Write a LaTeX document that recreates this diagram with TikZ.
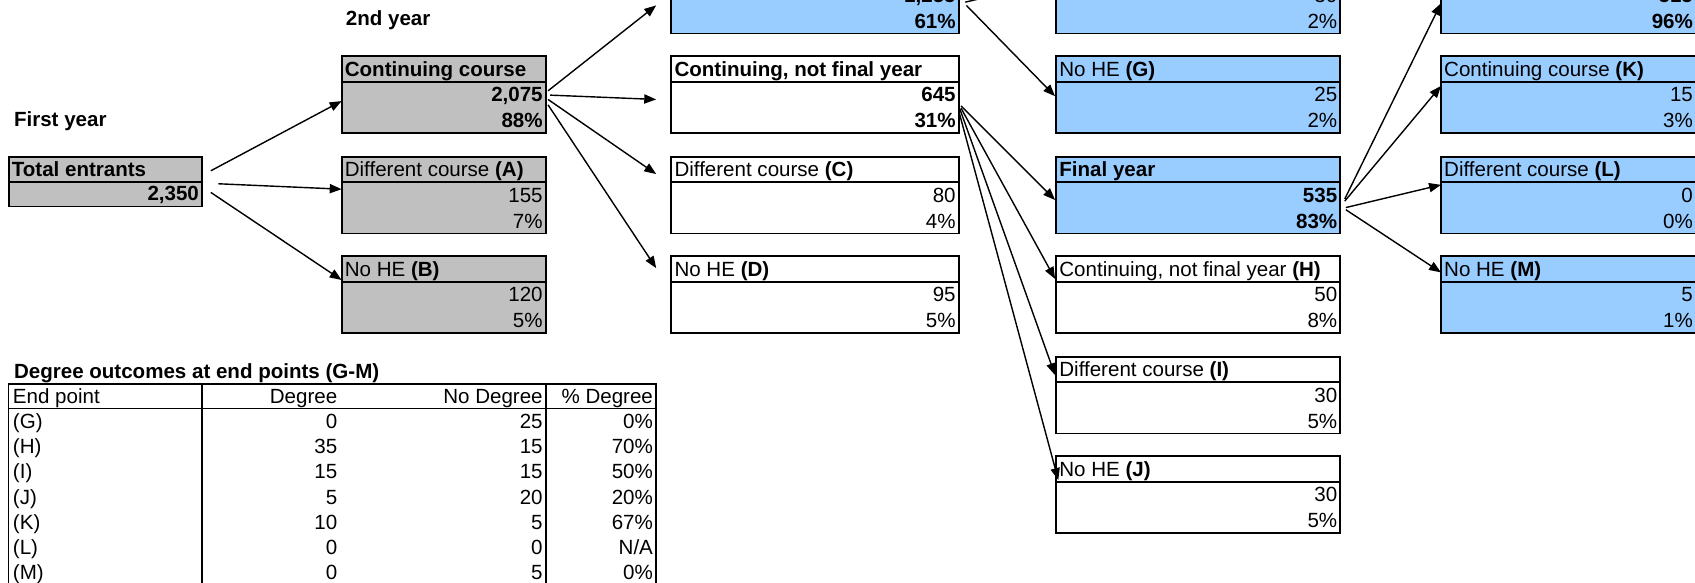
\documentclass[tikz,border=0pt]{standalone}
\usepackage{fontspec}
\setmainfont{Liberation Sans}
\usetikzlibrary{arrows.meta,calc}
\definecolor{xgray}{HTML}{C0C0C0}
\definecolor{xblue}{HTML}{99CCFF}
\tikzset{
  boxsty/.style={draw=black, line width=1.8pt, inner sep=0pt, outer sep=0pt, rectangle},
  sepline/.style={line width=1.8pt},
  txt/.style={font=\fontsize{19}{22}\selectfont, inner sep=0pt, outer sep=0pt},
  txtb/.style={font=\fontsize{19}{22}\selectfont\bfseries, inner sep=0pt, outer sep=0pt},
  arr/.style={line width=1.3pt, -{Triangle[length=11pt,width=8.5pt]}},
  tline/.style={line width=1.4pt},
}
% name, x, ytop, width, fill, value, pct
\newcommand{\flowbox}[7]{%
  \node[boxsty, fill=#5, minimum width=#4pt, minimum height=71pt, anchor=north west] (#1) at (#2,#3) {};
  \draw[sepline] ($(#1.north west)+(0,23.7)$) -- ($(#1.north east)+(0,23.7)$);
  \node[txt, anchor=base east] (#1-v) at ($(#1.north east)+(-3,42.3)$) {#6};
  \node[txt, anchor=base east] (#1-p) at ($(#1.north east)+(-3,66)$) {#7};
}
\newcommand{\boxhead}[2]{%
  \node[txt, anchor=base west] (#1-h) at ($(#1.north west)+(3,18.6)$) {#2};
}
\begin{document}
\begin{tikzpicture}[x=1pt,y=-1pt]
\useasboundingbox (0,0) rectangle (1568,539);
\clip (0,0) rectangle (1568,539);
\fill[white] (0,0) rectangle (1568,539);

% labels
\node[txtb, anchor=base west] (lab2) at (320,23.8) {2nd year};
\node[txtb, anchor=base west] (lab1) at (13,116.8) {First year};

% column 0
\node[boxsty, fill=xgray, minimum width=179pt, minimum height=46pt, anchor=north west] (te) at (8,145) {};
\draw[sepline] ($(te.north west)+(0,23)$) -- ($(te.north east)+(0,23)$);
\node[txtb, anchor=base west] (te-h) at ($(te.north west)+(3,18.3)$) {Total entrants};
\node[txtb, anchor=base east] (te-v) at ($(te.north east)+(-3,40.8)$) {2,350};

% column 1
\flowbox{cc}{316}{52}{189}{xgray}{\textbf{2,075}}{\textbf{88\%}}
\boxhead{cc}{\textbf{Continuing course}}
\flowbox{A}{316}{145}{189}{xgray}{155}{7\%}
\boxhead{A}{Different course \textbf{(A)}}
\flowbox{B}{316}{237}{189}{xgray}{120}{5\%}
\boxhead{B}{No HE \textbf{(B)}}

% column 2
\flowbox{fy2}{621}{-40}{266}{xblue}{\textbf{1,255}}{\textbf{61\%}}
\flowbox{nf}{621}{52}{266}{white}{\textbf{645}}{\textbf{31\%}}
\boxhead{nf}{\textbf{Continuing, not final year}}
\flowbox{C}{621}{145}{266}{white}{80}{4\%}
\boxhead{C}{Different course \textbf{(C)}}
\flowbox{D}{621}{237}{266}{white}{95}{5\%}
\boxhead{D}{No HE \textbf{(D)}}

% column 3
\flowbox{F}{977}{-40}{263}{xblue}{30}{2\%}
\flowbox{G}{977}{52}{263}{xblue}{25}{2\%}
\boxhead{G}{No HE \textbf{(G)}}
\flowbox{fy3}{977}{145}{263}{xblue}{\textbf{535}}{\textbf{83\%}}
\boxhead{fy3}{\textbf{Final year}}
\flowbox{H}{977}{237}{263}{white}{50}{8\%}
\boxhead{H}{Continuing, not final year \textbf{(H)}}
\flowbox{I}{977}{330}{263}{white}{30}{5\%}
\boxhead{I}{Different course \textbf{(I)}}
\flowbox{J}{977}{422}{263}{white}{30}{5\%}
\boxhead{J}{No HE \textbf{(J)}}

% column 4
\flowbox{P}{1333}{-40}{236}{xblue}{\textbf{515}}{\textbf{96\%}}
\flowbox{K}{1333}{52}{236}{xblue}{15}{3\%}
\boxhead{K}{Continuing course \textbf{(K)}}
\flowbox{L}{1333}{145}{236}{xblue}{0}{0\%}
\boxhead{L}{Different course \textbf{(L)}}
\flowbox{M}{1333}{237}{236}{xblue}{5}{1\%}
\boxhead{M}{No HE \textbf{(M)}}

% arrows from total entrants
\draw[arr] ($(te.north east)+(8,13)$) -- ($(cc.north west)+(0,41.5)$);
\draw[arr] ($(te.north east)+(15,25)$) -- ($(A.north west)+(0,30)$);
\draw[arr] ($(te.north east)+(8,33)$) -- ($(B.north west)+(0,22)$);

% arrows from continuing course
\draw[arr] ($(cc.north east)+(2,32)$) -- ($(fy2.north west)+(-14,45)$);
\draw[arr] ($(cc.north east)+(4,36)$) -- ($(nf.north west)+(-14,40)$);
\draw[arr] ($(cc.north east)+(2,40)$) -- ($(C.north west)+(-14,16)$);
\draw[arr] ($(cc.north east)+(2,45)$) -- ($(D.north west)+(-14,11)$);

% arrows from final year (col 2)
\draw[arr] ($(fy2.north east)+(7,45)$) -- ($(G.north west)+(-1,37)$);
\draw[arr] ($(fy2.north east)+(6,42)$) -- ($(F.north west)+(-1,22)$);

% arrows from continuing, not final year
\draw[arr] ($(nf.north east)+(2,46)$) -- ($(fy3.north west)+(-1,40)$);
\draw[arr] ($(nf.north east)+(2,48)$) -- ($(H.north west)+(-1,21)$);
\draw[arr] ($(nf.north east)+(1,49)$) -- ($(I.north west)+(-1,17)$);
\draw[arr] ($(nf.north east)+(0,51)$) -- ($(J.north west)+(2,22)$);

% arrows from final year (col 3)
\draw[arr] ($(fy3.north east)+(4,39)$) -- ($(P.north west)+(0,43)$);
\draw[arr] ($(fy3.north east)+(4,41)$) -- ($(K.north west)+(0,27.5)$);
\draw[arr] ($(fy3.north east)+(5,47)$) -- ($(L.north west)+(0,26)$);
\draw[arr] ($(fy3.north east)+(5,49)$) -- ($(M.north west)+(0,15)$);

% table
\node[txtb, anchor=base west] (ttitle) at (13,349.8) {Degree outcomes at end points (G-M)};
\draw[tline] (8,355) rectangle (607,541);
\draw[tline] (187,355) -- (187,541);
\draw[tline] (505,355) -- (505,541);
\draw[tline] (8,378) -- (607,378);
\node[txt, anchor=base west] (th1) at (12,373.3) {End point};
\node[txt, anchor=base east] (th2) at (312,373.3) {Degree};
\node[txt, anchor=base east] (th3) at (502,373.3) {No Degree};
\node[txt, anchor=base east] (th4) at (604,373.3) {\% Degree};
\foreach \lab/\dg/\nd/\pc [count=\i] in {G/0/25/0\%, H/35/15/70\%, I/15/15/50\%, J/5/20/20\%, K/10/5/67\%, L/0/0/N\slash A, M/0/5/0\%}{
  \pgfmathsetmacro\yb{378+23.3*(\i-0.5)+6.8}
  \node[txt, anchor=base west] (tr\i a) at (12,\yb) {(\lab)};
  \node[txt, anchor=base east] (tr\i b) at (312,\yb) {\dg};
  \node[txt, anchor=base east] (tr\i c) at (502,\yb) {\nd};
  \node[txt, anchor=base east] (tr\i d) at (604,\yb) {\pc};
}
\end{tikzpicture}
\end{document}
